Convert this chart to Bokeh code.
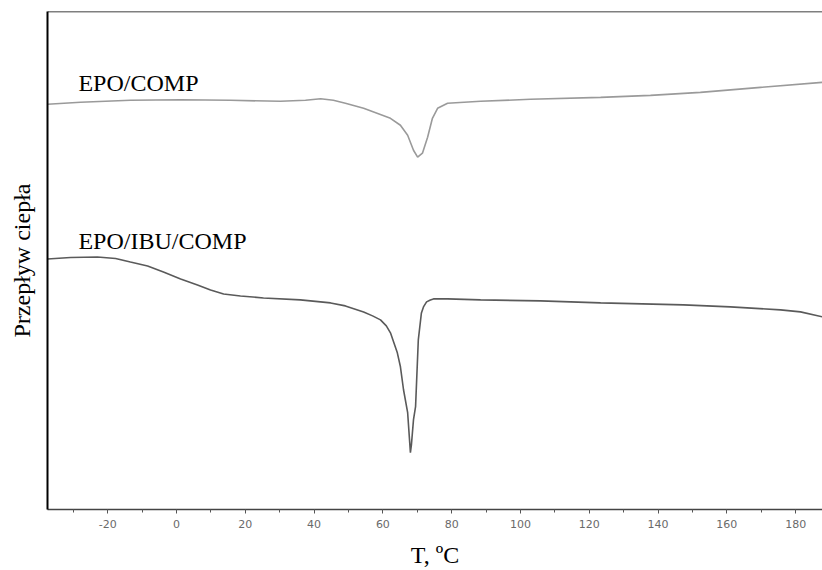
from bokeh.plotting import figure
from bokeh.models import Range1d, SingleIntervalTicker, Label, Span, FixedTicker
from bokeh.embed import file_html
from bokeh.resources import INLINE

# EPO/COMP curve (temperature in °C, heat flow in arbitrary units)
t_comp = [-37.5, -27.9, -13.4, 1.2, 15.7, 30.2, 37.5, 41.9, 45.6, 49.1, 54.4,
          62.2, 65.1, 67.2, 68.9, 70.1, 71.5, 73.0, 74.4, 75.9, 78.8, 88.4,
          102.9, 123.3, 137.8, 152.3, 169.8, 187.8]
h_comp = [406, 408, 410, 410.5, 410, 409, 410, 411.5, 410, 407, 402,
          392, 385, 375, 360, 353, 357, 373, 392, 402, 407, 409,
          411, 413, 415, 418, 423, 428]

# EPO/IBU/COMP curve
t_ibu = [-37.5, -30.8, -23.0, -17.7, -13.4, -8.4, -3.8, 1.2, 6.1, 9.9, 13.7,
         18.6, 25.3, 36.0, 44.8, 49.1, 54.4, 57.0, 59.3, 61.0, 62.2, 64.2,
         65.1, 66.0, 67.2, 67.7, 68.0, 68.3, 68.9, 69.5, 70.3, 71.2, 71.8,
         72.7, 73.8, 74.7, 78.8, 88.4, 105.8, 123.3, 147.4, 161.0, 175.6,
         181.4, 187.8]
h_ibu = [251, 252.5, 253, 251.5, 248, 244, 238, 231, 225, 220, 216,
         214, 212, 210, 207, 204, 198, 194, 190, 184, 177, 157,
         143, 120, 97, 72, 57, 65, 90, 103, 170, 197, 203,
         208, 210, 211, 211, 210, 209, 207, 205, 203, 200,
         198, 193]

series_names = ["EPO/COMP", "EPO/IBU/COMP"]
x_label = "T, ºC"
y_label = "Przepływ ciepła"

x_start, x_end = -37.5, 187.8
y_start, y_end = 0, 499

p = figure(width=822, height=570, output_backend="svg", toolbar_location=None,
           x_range=Range1d(x_start, x_end), y_range=Range1d(y_start, y_end),
           min_border_left=47, min_border_right=0, min_border_top=11,
           min_border_bottom=60)
p.outline_line_color = None
p.grid.grid_line_color = None
p.background_fill_color = "white"
p.border_fill_color = "white"

p.line(t_comp, h_comp, line_color="#9a9a9a", line_width=1.6)
p.line(t_ibu, h_ibu, line_color="#5a5a5a", line_width=1.6)

serif = "Liberation Serif"

# x axis
xa = p.xaxis[0]
xa.ticker = SingleIntervalTicker(interval=20, num_minor_ticks=2)
xa.major_label_overrides = {-20: "-20"}
xa.axis_line_color = "#444444"
xa.axis_line_width = 1.6
xa.major_tick_line_color = "#555555"
xa.minor_tick_line_color = "#555555"
xa.major_tick_out = 4
xa.major_tick_in = 0
xa.minor_tick_out = 3
xa.minor_tick_in = 0
xa.major_label_text_font = "DejaVu Sans"
xa.major_label_text_font_size = "11px"
xa.major_label_text_color = "#6a6a6a"
xa.major_label_standoff = 6
xa.axis_label = x_label
xa.axis_label_text_font = serif
xa.axis_label_text_font_size = "24px"
xa.axis_label_text_font_style = "normal"
xa.axis_label_text_color = "black"
xa.axis_label_standoff = 11

# y axis: line only
ya = p.yaxis[0]
ya.ticker = FixedTicker(ticks=[])
ya.axis_line_color = "black"
ya.axis_line_width = 2
ya.major_tick_out = 0
ya.major_tick_in = 0
ya.minor_tick_out = 0
ya.major_label_standoff = 0
ya.axis_label = y_label
ya.axis_label_text_font = serif
ya.axis_label_text_font_size = "24px"
ya.axis_label_text_font_style = "normal"
ya.axis_label_text_color = "black"
ya.axis_label_standoff = 13

# top border
p.add_layout(Span(location=y_end, dimension="width", line_color="black", line_width=1.5))

p.add_layout(Label(x=-28.5, y=427, text=series_names[0], text_font=serif,
                   text_font_size="24px", text_color="black", text_baseline="alphabetic"))
p.add_layout(Label(x=-28.5, y=269, text=series_names[1], text_font=serif,
                   text_font_size="24px", text_color="black", text_baseline="alphabetic"))

open("out.html", "w").write(file_html(p, INLINE))
